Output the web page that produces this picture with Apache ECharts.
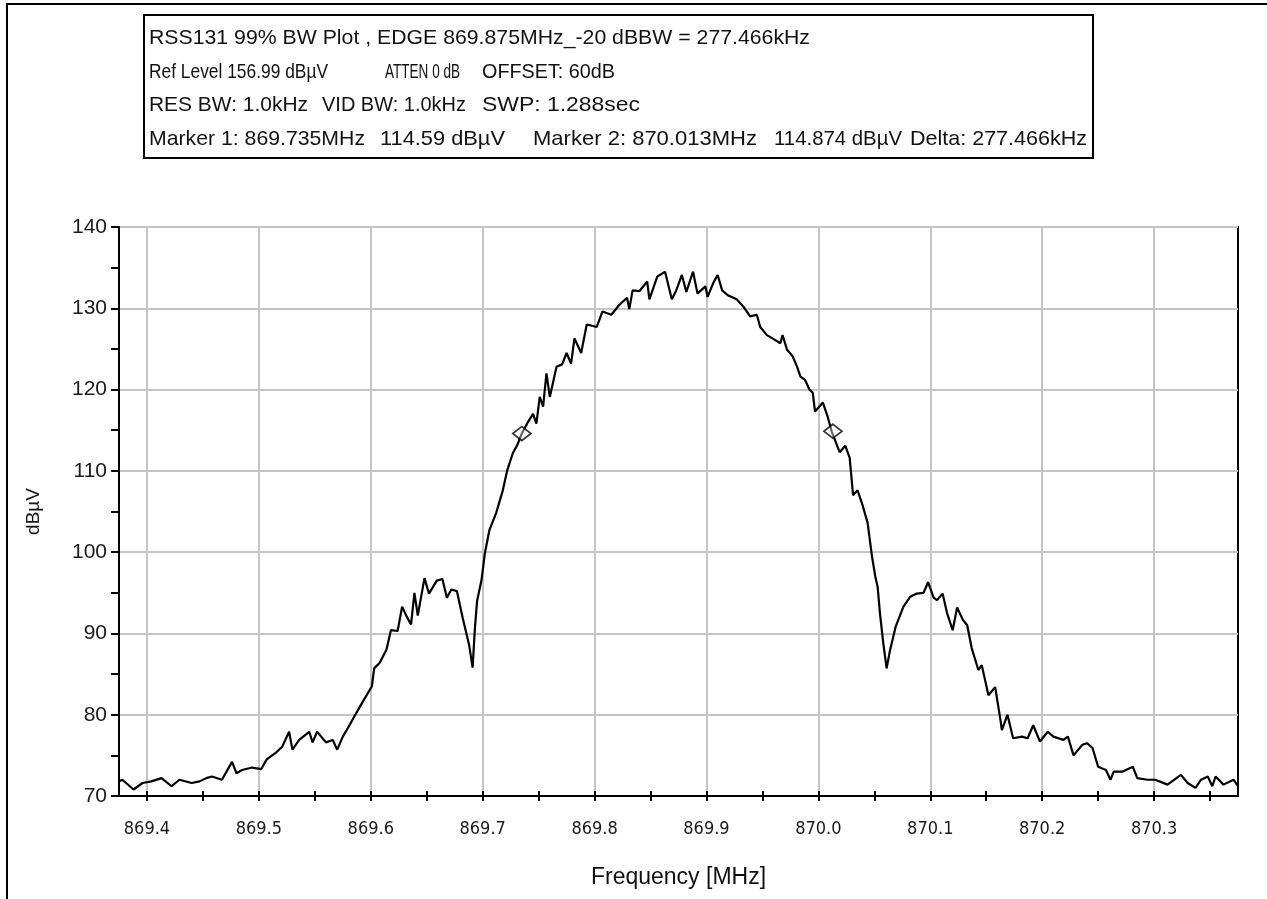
<!DOCTYPE html>
<html>
<head>
<meta charset="utf-8">
<script src="https://cdn.jsdelivr.net/npm/echarts@6/dist/echarts.min.js"></script>
<style>
html,body{margin:0;padding:0;background:#fff;}
#chart{width:1267px;height:899px;}
</style>
</head>
<body>
<div id="chart"></div>
<script>
// ---- data ----
const headerLines = [
  ['RSS131 99% BW Plot , EDGE 869.875MHz_-20 dBBW = 277.466kHz'],
  ['Ref Level 156.99 dBµV', 'ATTEN 0 dB', 'OFFSET: 60dB'],
  ['RES BW: 1.0kHz', 'VID BW: 1.0kHz', 'SWP: 1.288sec'],
  ['Marker 1: 869.735MHz', '114.59 dBµV', 'Marker 2: 870.013MHz', '114.874 dBµV', 'Delta: 277.466kHz']
];
const xMajorTicks = [869.4, 869.5, 869.6, 869.7, 869.8, 869.9, 870.0, 870.1, 870.2, 870.3];
const xMinorTicks = [869.45, 869.55, 869.65, 869.75, 869.85, 869.95, 870.05, 870.15, 870.25, 870.35];
const xTitle = 'Frequency [MHz]';
const yTitle = 'dBµV';
const markerFreq = [869.735, 870.013];
const markerLevel = [114.59, 114.874];
const freq = [
  869.375, 869.378, 869.388, 869.396, 869.404, 869.413, 869.422, 869.429, 869.440, 869.447,
  869.453, 869.458, 869.467, 869.476, 869.480, 869.485, 869.494, 869.502, 869.507, 869.515,
  869.521, 869.527, 869.530, 869.536, 869.545, 869.548, 869.552, 869.560, 869.566, 869.570,
  869.575, 869.581, 869.587, 869.592, 869.601, 869.603, 869.608, 869.614, 869.618, 869.624,
  869.628, 869.632, 869.636, 869.639, 869.642, 869.648, 869.652, 869.659, 869.664, 869.668,
  869.672, 869.677, 869.682, 869.688, 869.691, 869.693, 869.695, 869.699, 869.702, 869.706,
  869.712, 869.718, 869.722, 869.727, 869.731, 869.735, 869.740, 869.745, 869.748, 869.751,
  869.754, 869.757, 869.760, 869.766, 869.771, 869.775, 869.779, 869.782, 869.788, 869.793,
  869.802, 869.807, 869.815, 869.822, 869.829, 869.831, 869.834, 869.840, 869.847, 869.849,
  869.856, 869.863, 869.869, 869.873, 869.878, 869.882, 869.888, 869.892, 869.899, 869.901,
  869.906, 869.910, 869.914, 869.919, 869.927, 869.933, 869.939, 869.945, 869.948, 869.954,
  869.959, 869.966, 869.968, 869.972, 869.977, 869.981, 869.984, 869.988, 869.992, 869.995,
  869.997, 870.004, 870.008, 870.012, 870.019, 870.024, 870.028, 870.031, 870.035, 870.039,
  870.044, 870.048, 870.051, 870.053, 870.055, 870.058, 870.061, 870.064, 870.069, 870.076,
  870.082, 870.088, 870.094, 870.098, 870.103, 870.106, 870.111, 870.115, 870.120, 870.124,
  870.129, 870.133, 870.137, 870.143, 870.146, 870.152, 870.158, 870.163, 870.164, 870.169,
  870.174, 870.182, 870.187, 870.192, 870.198, 870.205, 870.210, 870.219, 870.223, 870.228,
  870.236, 870.240, 870.245, 870.250, 870.257, 870.261, 870.264, 870.272, 870.281, 870.285,
  870.294, 870.301, 870.312, 870.324, 870.330, 870.337, 870.342, 870.348, 870.352, 870.355,
  870.362, 870.371, 870.375
];
const level = [
  71.8, 72.0, 70.8, 71.6, 71.8, 72.2, 71.2, 72.0, 71.6, 71.8,
  72.2, 72.4, 72.0, 74.2, 72.8, 73.2, 73.5, 73.3, 74.5, 75.3,
  76.1, 77.9, 75.7, 76.9, 77.9, 76.6, 77.9, 76.6, 76.9, 75.7,
  77.3, 78.7, 80.2, 81.4, 83.5, 85.7, 86.4, 88.0, 90.4, 90.3,
  93.3, 92.1, 91.1, 95.0, 92.2, 96.8, 94.9, 96.5, 96.7, 94.4,
  95.4, 95.2, 92.0, 88.5, 85.8, 90.5, 94.0, 96.6, 99.9, 102.7,
  104.8, 107.6, 110.1, 112.2, 113.2, 114.6, 115.9, 117.0, 115.8, 119.1,
  117.9, 122.0, 119.1, 122.8, 123.1, 124.5, 123.2, 126.3, 124.5, 128.0,
  127.7, 129.6, 129.2, 130.4, 131.3, 129.9, 132.2, 132.1, 133.3, 131.1,
  133.9, 134.5, 131.1, 132.2, 134.1, 132.0, 134.5, 131.8, 132.7, 131.4,
  133.1, 134.1, 132.2, 131.6, 131.1, 130.2, 129.0, 129.2, 127.7, 126.7,
  126.3, 125.7, 126.7, 124.9, 124.1, 122.8, 121.6, 121.2, 120.0, 119.6,
  117.3, 118.4, 116.8, 114.8, 112.3, 113.1, 111.6, 107.0, 107.6, 106.0,
  103.6, 99.4, 96.9, 95.7, 92.5, 88.8, 85.7, 87.9, 90.8, 93.3,
  94.5, 94.9, 95.0, 96.3, 94.4, 94.1, 94.9, 92.5, 90.4, 93.2,
  91.7, 91.0, 88.2, 85.5, 86.1, 82.4, 83.4, 79.1, 78.1, 80.0,
  77.1, 77.3, 77.1, 78.7, 76.7, 77.9, 77.3, 76.9, 77.3, 75.0,
  76.3, 76.5, 75.9, 73.6, 73.2, 72.0, 73.0, 73.0, 73.6, 72.2,
  72.0, 72.0, 71.4, 72.6, 71.6, 71.0, 72.0, 72.4, 71.2, 72.4,
  71.4, 72.0, 71.2
];

// ---- layout / style ----
const FONT = '"Liberation Sans", Arial, sans-serif';
const COND = '"DejaVu Sans Condensed", "Liberation Sans", sans-serif';
const X_MIN = 869.375, X_MAX = 870.375;
const allXTicks = xMajorTicks.concat(xMinorTicks);
// header text placement: [startX, endX] for each segment, one list per line
const headerSpans = [
  [[149, 810]],
  [[149, 328], [385, 460], [482, 615]],
  [[149, 308], [322, 466], [482, 640]],
  [[149, 365], [380, 505], [533, 757], [774, 902], [910, 1087]]
];
const headerY = [38, 72, 105, 139];
const HEAD_FONT = '21px ' + FONT;

const measureCtx = document.createElement('canvas').getContext('2d');
measureCtx.font = HEAD_FONT;

const chart = echarts.init(document.getElementById('chart'), null, {renderer: 'canvas'});

const graphic = [
  {type: 'line', shape: {x1: 6, y1: 4, x2: 1267, y2: 4}, style: {stroke: '#000', lineWidth: 2}},
  {type: 'line', shape: {x1: 7, y1: 4, x2: 7, y2: 899}, style: {stroke: '#000', lineWidth: 2}},
  {type: 'rect', shape: {x: 144, y: 15, width: 949, height: 143}, style: {fill: '#fff', stroke: '#000', lineWidth: 2}}
];
headerLines.forEach((segs, i) => {
  segs.forEach((t, j) => {
    const span = headerSpans[i][j];
    const w = measureCtx.measureText(t).width || 1;
    graphic.push({
      type: 'text', x: span[0], y: headerY[i],
      scaleX: (span[1] - span[0]) / w, scaleY: 1,
      style: {text: t, font: HEAD_FONT, fill: '#111', align: 'left', verticalAlign: 'middle'}
    });
  });
});

const helperX = (ticks, inside) => ({
  type: 'value', min: X_MIN, max: X_MAX, position: 'bottom',
  axisLine: {show: false}, axisLabel: {show: false}, splitLine: {show: false},
  axisTick: {show: true, customValues: ticks, inside: inside, length: 5, lineStyle: {color: '#000', width: 2}}
});

const option = {
  backgroundColor: '#fff',
  animation: false,
  graphic: graphic,
  grid: {left: 119, right: 29, top: 227, bottom: 103, show: true, borderColor: '#000', borderWidth: 2, backgroundColor: 'transparent'},
  xAxis: [
    {
      type: 'value', min: X_MIN, max: X_MAX, position: 'bottom',
      name: xTitle, nameLocation: 'middle', nameGap: 70,
      nameTextStyle: {fontFamily: FONT, fontSize: 23, color: '#111'},
      axisLine: {lineStyle: {color: '#000', width: 2}},
      axisTick: {show: true, customValues: xMajorTicks, length: 5, lineStyle: {color: '#000', width: 2}},
      axisLabel: {customValues: xMajorTicks, formatter: v => v.toFixed(1), margin: 24, fontFamily: COND, fontSize: 18, color: '#1a1a1a'},
      splitLine: {show: true, lineStyle: {color: '#c4c4c4', width: 2}}
    },
    helperX(allXTicks, true),
    helperX(xMinorTicks, false)
  ],
  yAxis: {
    type: 'value', min: 70, max: 140, interval: 10,
    name: yTitle, nameLocation: 'middle', nameGap: 76, nameRotate: 90,
    nameTextStyle: {fontFamily: FONT, fontSize: 19, color: '#111'},
    axisLine: {show: true, lineStyle: {color: '#000', width: 2}},
    axisTick: {show: true, length: 8, lineStyle: {color: '#000', width: 2}},
    minorTick: {show: true, splitNumber: 2, length: 8, lineStyle: {color: '#000', width: 2}},
    axisLabel: {margin: 12, fontFamily: FONT, fontSize: 21, color: '#1a1a1a'},
    splitLine: {show: true, lineStyle: {color: '#c4c4c4', width: 2}}
  },
  series: [
    {
      type: 'line', xAxisIndex: 0, yAxisIndex: 0,
      data: freq.map((f, i) => [f, level[i]]),
      showSymbol: false, symbol: 'none',
      lineStyle: {color: '#000', width: 2.2},
      z: 3
    },
    {
      type: 'scatter', xAxisIndex: 0, yAxisIndex: 0,
      data: markerFreq.map((f, i) => [f, markerLevel[i]]),
      symbol: 'diamond', symbolSize: [18, 14],
      itemStyle: {color: 'rgba(255,255,255,0.5)', borderColor: '#000', borderWidth: 1.8},
      z: 4
    }
  ]
};
chart.setOption(option);
</script>
</body>
</html>
